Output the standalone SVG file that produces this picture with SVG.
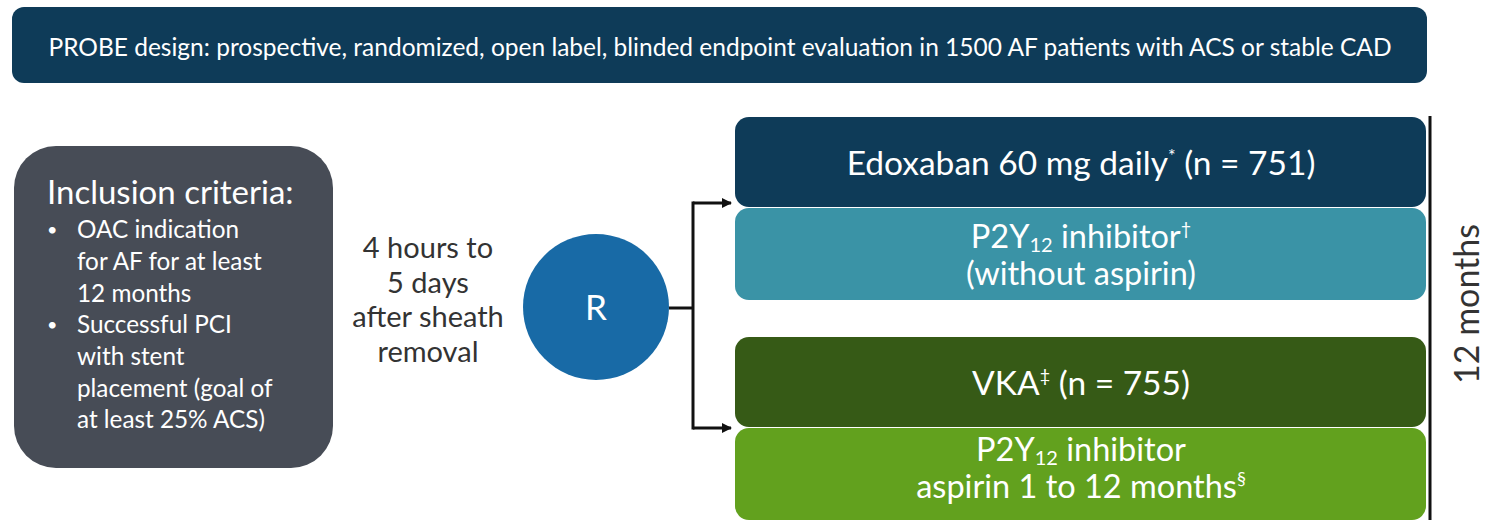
<svg xmlns="http://www.w3.org/2000/svg" width="1498" height="531" viewBox="0 0 1498 531">
  <defs>
    <marker id="arrow" markerWidth="10" markerHeight="10" refX="9" refY="5" orient="auto" markerUnits="userSpaceOnUse">
      <path d="M0,0 L10,5 L0,10 Z" fill="#111"/>
    </marker>
  </defs>
  <style>
    text { font-family: Lato, "Open Sans", sans-serif; }
    .white { fill: #ffffff; }
    .dark { fill: #333333; }
    .arm { font-size: 33.5px; text-anchor: middle; fill: #ffffff; }
    .arm2 { font-size: 32.5px; text-anchor: middle; fill: #ffffff; }
    .crit { font-size: 24.3px; fill: #ffffff; }
    .bullet { font-size: 18px; fill: #ffffff; }
    .conn { stroke: #111; stroke-width: 3; fill: none; }
  </style>
  <rect width="1498" height="531" fill="#ffffff"/>

  <!-- study design banner -->
  <g id="banner">
    <rect x="12" y="7" width="1415" height="76" rx="12" fill="#0e3b58"/>
    <text x="720" y="56" font-size="24.5" text-anchor="middle" class="white">PROBE design: prospective, randomized, open label, blinded endpoint evaluation in 1500 AF patients with ACS or stable CAD</text>
  </g>

  <!-- inclusion criteria -->
  <g id="inclusion">
    <rect x="14" y="146" width="319" height="322" rx="42" fill="#474c56"/>
    <text x="47" y="204" font-size="33" class="white">Inclusion criteria:</text>
    <text x="47" y="236" class="bullet">•</text>
    <text x="77" y="238" class="crit">OAC indication</text>
    <text x="77" y="270" class="crit">for AF for at least</text>
    <text x="77" y="302" class="crit">12 months</text>
    <text x="47" y="331" class="bullet">•</text>
    <text x="77" y="333" class="crit">Successful PCI</text>
    <text x="77" y="365" class="crit">with stent</text>
    <text x="77" y="397" class="crit">placement (goal of</text>
    <text x="77" y="428" class="crit">at least 25% ACS)</text>
  </g>

  <!-- timing label -->
  <g id="timing" font-size="29" text-anchor="middle" class="dark">
    <text x="428" y="258">4 hours to</text>
    <text x="428" y="293">5 days</text>
    <text x="428" y="327">after sheath</text>
    <text x="428" y="362">removal</text>
  </g>

  <!-- randomization -->
  <g id="randomization">
    <circle cx="596" cy="307" r="73" fill="#186aa6"/>
    <text x="596" y="320" font-size="35" text-anchor="middle" class="white">R</text>
  </g>

  <!-- connectors -->
  <g id="connectors">
    <line x1="669" y1="308" x2="693" y2="308" class="conn"/>
    <line x1="693" y1="201.5" x2="693" y2="429.5" class="conn"/>
    <line x1="693" y1="203" x2="731" y2="203" class="conn" marker-end="url(#arrow)"/>
    <line x1="693" y1="428" x2="731" y2="428" class="conn" marker-end="url(#arrow)"/>
    <line x1="1430" y1="116" x2="1430" y2="520" class="conn"/>
  </g>

  <!-- edoxaban arm -->
  <g id="edoxaban">
    <rect x="735" y="117" width="691" height="90" rx="14" fill="#0e3b58"/>
    <text x="1081" y="175" class="arm">Edoxaban 60 mg daily<tspan font-size="18" dy="-13">*</tspan><tspan dy="13"> (n = 751)</tspan></text>
  </g>
  <g id="edoxaban-p2y12">
    <rect x="735" y="208" width="691" height="92" rx="14" fill="#3a93a6"/>
    <text x="1081" y="248" class="arm2">P2Y<tspan font-size="20" dy="4">12</tspan><tspan dy="-4"> inhibitor</tspan><tspan font-size="18" dy="-13">†</tspan></text>
    <text x="1081" y="285" class="arm2">(without aspirin)</text>
  </g>

  <!-- VKA arm -->
  <g id="vka">
    <rect x="735" y="337" width="691" height="90" rx="14" fill="#365a16"/>
    <text x="1081" y="395" class="arm">VKA<tspan font-size="18" dy="-13">‡</tspan><tspan dy="13"> (n = 755)</tspan></text>
  </g>
  <g id="vka-p2y12">
    <rect x="735" y="428" width="691" height="92" rx="14" fill="#62a11e"/>
    <text x="1081" y="461" class="arm2">P2Y<tspan font-size="20" dy="4">12</tspan><tspan dy="-4"> inhibitor</tspan></text>
    <text x="1081" y="498" class="arm2">aspirin 1 to 12 months<tspan font-size="18" dy="-13">§</tspan></text>
  </g>

  <!-- duration label -->
  <g id="duration">
    <text x="0" y="0" font-size="34" text-anchor="middle" class="dark" transform="translate(1479 304) rotate(-90)">12 months</text>
  </g>
</svg>
